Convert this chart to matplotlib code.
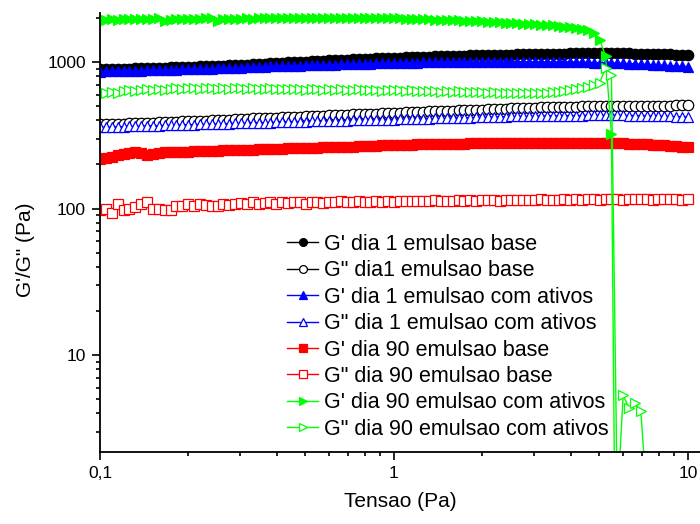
import matplotlib
matplotlib.use("Agg")
import matplotlib.pyplot as plt
from matplotlib.ticker import FixedLocator, FuncFormatter, LogLocator, NullFormatter

plt.rcParams['font.family'] = ['Liberation Sans', 'DejaVu Sans']

# Applied stress (Pa): 50 logarithmic steps per decade, 0.1 to 10 Pa
decade = [1.0000, 1.0471, 1.0965, 1.1482, 1.2023, 1.2589, 1.3183, 1.3804, 1.4454, 1.5136,
          1.5849, 1.6596, 1.7378, 1.8197, 1.9055, 1.9953, 2.0893, 2.1878, 2.2909, 2.3988,
          2.5119, 2.6303, 2.7542, 2.8840, 3.0200, 3.1623, 3.3113, 3.4674, 3.6308, 3.8019,
          3.9811, 4.1687, 4.3652, 4.5709, 4.7863, 5.0119, 5.2481, 5.4954, 5.7544, 6.0256,
          6.3096, 6.6069, 6.9183, 7.2444, 7.5858, 7.9433, 8.3176, 8.7096, 9.1201, 9.5499]
stress = [0.1 * d for d in decade] + [d for d in decade] + [10.0]

g1_base_Gp = [890, 893, 895, 898, 900, 903, 905, 908, 910, 912,
              915, 917, 920, 922, 925, 927, 930, 932, 935, 937,
              940, 944, 948, 953, 957, 961, 966, 971, 976, 980,
              985, 990, 994, 999, 1003, 1008, 1012, 1017, 1021, 1026,
              1030, 1034, 1038, 1042, 1046, 1050, 1054, 1058, 1062, 1066,
              1070, 1073, 1076, 1079, 1082, 1085, 1088, 1091, 1094, 1097,
              1100, 1103, 1105, 1108, 1110, 1113, 1115, 1118, 1120, 1123,
              1125, 1127, 1129, 1131, 1133, 1135, 1137, 1139, 1141, 1143,
              1145, 1146, 1147, 1148, 1149, 1150, 1150, 1149, 1148, 1147,
              1145, 1143, 1140, 1137, 1135, 1132, 1129, 1126, 1123, 1119,
              1115]

g1_base_Gpp = [375, 376, 377, 379, 380, 381, 383, 384, 385, 386,
               388, 389, 390, 391, 393, 394, 395, 397, 398, 399,
               401, 403, 404, 406, 408, 410, 412, 413, 415, 417,
               418, 420, 421, 423, 424, 426, 428, 429, 431, 432,
               434, 436, 437, 439, 440, 442, 444, 445, 447, 448,
               450, 452, 453, 455, 457, 458, 460, 462, 463, 465,
               466, 468, 470, 471, 473, 474, 476, 477, 479, 480,
               482, 483, 485, 486, 488, 490, 491, 492, 493, 494,
               495, 496, 497, 498, 499, 500, 500, 501, 501, 502,
               502, 502, 503, 503, 503, 504, 504, 504, 505, 505,
               505]

g1_ativ_Gp = [860, 862, 864, 866, 868, 870, 872, 874, 876, 878,
              880, 882, 885, 887, 890, 892, 895, 897, 900, 902,
              905, 908, 911, 914, 917, 920, 923, 926, 929, 932,
              935, 938, 940, 943, 945, 948, 950, 953, 955, 958,
              960, 963, 965, 968, 970, 973, 975, 978, 980, 983,
              985, 987, 988, 990, 991, 993, 994, 996, 997, 999,
              1000, 1001, 1001, 1002, 1002, 1003, 1003, 1004, 1004, 1005,
              1005, 1005, 1004, 1004, 1003, 1003, 1002, 1002, 1001, 1001,
              1000, 998, 996, 994, 992, 990, 988, 985, 982, 979,
              975, 971, 967, 963, 959, 954, 949, 945, 940, 935,
              930]

g1_ativ_Gpp = [358, 359, 360, 361, 362, 363, 364, 365, 366, 367,
               368, 369, 370, 371, 372, 373, 374, 375, 376, 377,
               378, 379, 380, 381, 381, 382, 383, 384, 385, 386,
               387, 388, 389, 390, 391, 392, 393, 393, 394, 395,
               396, 397, 398, 399, 400, 401, 401, 402, 403, 404,
               405, 406, 407, 408, 409, 410, 411, 412, 413, 414,
               415, 416, 417, 418, 419, 420, 421, 422, 423, 424,
               425, 425, 426, 426, 427, 428, 428, 429, 429, 430,
               430, 431, 431, 432, 432, 433, 433, 433, 432, 432,
               431, 431, 430, 429, 428, 427, 426, 425, 424, 423,
               422]

g90_base_Gp = [219, 222, 226, 231, 236, 241, 242, 239, 233, 236,
               240, 242, 244, 244, 245, 245, 246, 246, 247, 247,
               248, 249, 249, 250, 251, 252, 252, 253, 254, 254,
               255, 256, 257, 257, 258, 259, 259, 260, 261, 261,
               262, 263, 264, 265, 266, 267, 268, 269, 270, 271,
               272, 272, 273, 273, 274, 274, 275, 275, 276, 276,
               277, 277, 277, 278, 278, 278, 279, 279, 279, 280,
               280, 280, 280, 280, 281, 281, 281, 281, 281, 281,
               281, 281, 281, 280, 280, 280, 280, 279, 279, 278,
               277, 276, 275, 274, 273, 272, 270, 268, 267, 265,
               263]

g90_base_Gpp = [97, 99, 93, 108, 98, 99, 103, 107, 110, 99,
                100, 98, 98, 104, 104, 108, 104, 108, 106, 104,
                104, 107, 106, 108, 109, 107, 110, 108, 109, 111,
                108, 110, 109, 111, 110, 108, 110, 111, 109, 110,
                111, 112, 110, 111, 112, 111, 110, 112, 111, 112,
                111, 112, 113, 112, 113, 112, 113, 114, 113, 112,
                113, 114, 113, 114, 113, 114, 115, 114, 113, 114,
                115, 114, 115, 114, 115, 116, 115, 114, 115, 116,
                115, 116, 115, 116, 116, 115, 116, 117, 116, 115,
                116, 117, 116, 116, 115, 116, 117, 116, 116, 115,
                116]

g90_ativ_Gp = [1930, 1950, 1960, 1945, 1965, 1970, 1955, 1975, 1980, 1965,
               1985, 1900, 1945, 1960, 1970, 1975, 1965, 1980, 1985, 1990,
               1895, 1960, 1970, 1975, 1980, 1985, 1975, 1990, 1995, 1985,
               1990, 1995, 1985, 1995, 2000, 1990, 1995, 2000, 1990, 1995,
               2000, 1990, 1995, 2000, 1990, 1995, 1990, 1995, 1985, 1990,
               1985, 1990, 1980, 1975, 1970, 1965, 1955, 1950, 1940, 1935,
               1925, 1920, 1910, 1905, 1895, 1890, 1885, 1875, 1870, 1860,
               1850, 1840, 1830, 1820, 1810, 1800, 1790, 1775, 1760, 1740,
               1720, 1705, 1680, 1650, 1570, 1420, 1100, 322, 0.01]

g90_ativ_Gpp = [600, 610, 620, 615, 630, 640, 635, 645, 650, 640,
                655, 640, 650, 660, 655, 665, 660, 655, 665, 660,
                650, 660, 655, 665, 660, 655, 660, 650, 655, 660,
                655, 650, 655, 650, 655, 645, 650, 655, 645, 650,
                645, 650, 640, 645, 650, 640, 645, 640, 635, 640,
                645, 640, 635, 640, 635, 630, 635, 630, 625, 630,
                625, 630, 625, 620, 625, 620, 615, 620, 615, 610,
                615, 610, 615, 610, 612, 615, 618, 622, 628, 635,
                645, 655, 665, 675, 695, 720, 910, 815, 1.0, 5.3,
                4.35, 4.7, 4.15, 1.1]

labels = ["G' dia 1 emulsao base",
          'G" dia1 emulsao base',
          "G' dia 1 emulsao com ativos",
          'G" dia 1 emulsao com ativos',
          "G' dia 90 emulsao base",
          'G" dia 90 emulsao base',
          "G' dia 90 emulsao com ativos",
          'G" dia 90 emulsao com ativos']

series = [
    (g1_base_Gp, '#000000', 'o', True),
    (g1_base_Gpp, '#000000', 'o', False),
    (g1_ativ_Gp, '#0000FF', '^', True),
    (g1_ativ_Gpp, '#0000FF', '^', False),
    (g90_base_Gp, '#FF0000', 's', True),
    (g90_base_Gpp, '#FF0000', 's', False),
    (g90_ativ_Gp, '#00FF00', '>', True),
    (g90_ativ_Gpp, '#00FF00', '>', False),
]

fig = plt.figure(figsize=(7.0, 5.24), dpi=100)
ax = fig.add_axes([100 / 700, 72 / 524, 600 / 700, (452 - 13) / 524])

for (vals, color, marker, filled), lab in zip(series, labels):
    xs = stress[:len(vals)]
    ax.plot(xs, vals, color=color, lw=1.0, marker=marker, ms=7.5,
            mfc=color if filled else 'white', mec=color,
            mew=0.9, label=lab, clip_on=True)

ax.set_xscale('log')
ax.set_yscale('log')
ax.set_xlim(0.1, 11.0)
ax.set_ylim(2.18, 2160)

ax.xaxis.set_major_locator(FixedLocator([0.1, 1, 10]))
ax.xaxis.set_major_formatter(FuncFormatter(lambda v, p: {0.1: '0,1', 1: '1', 10: '10'}.get(round(v, 3), '')))
ax.xaxis.set_minor_locator(LogLocator(base=10, subs=range(2, 10)))
ax.xaxis.set_minor_formatter(NullFormatter())
ax.yaxis.set_major_locator(FixedLocator([10, 100, 1000]))
ax.yaxis.set_major_formatter(FuncFormatter(lambda v, p: '%d' % round(v)))
ax.yaxis.set_minor_locator(LogLocator(base=10, subs=range(2, 10)))
ax.yaxis.set_minor_formatter(NullFormatter())

for side in ('top', 'right'):
    ax.spines[side].set_visible(False)
for side in ('left', 'bottom'):
    ax.spines[side].set_linewidth(1.3)

ax.tick_params(which='major', direction='out', length=6, width=1.2,
               labelsize=12.5, pad=4, colors='black')
ax.tick_params(which='minor', direction='out', length=3, width=1.2)

ax.set_xlabel('Tensao (Pa)', fontsize=15, labelpad=8)
ax.set_ylabel('G\'/G" (Pa)', fontsize=15)
ax.yaxis.set_label_coords(-0.108, 0.46)

ax.legend(loc='upper left', bbox_to_anchor=(287 / 700, 1 - 234 / 524),
          bbox_transform=fig.transFigure, frameon=False, fontsize=15.5,
          numpoints=1, handlelength=1.45, handletextpad=0.25,
          labelspacing=0.25, borderpad=0, borderaxespad=0, markerscale=0.75)

fig.savefig('out.png', dpi=100)
